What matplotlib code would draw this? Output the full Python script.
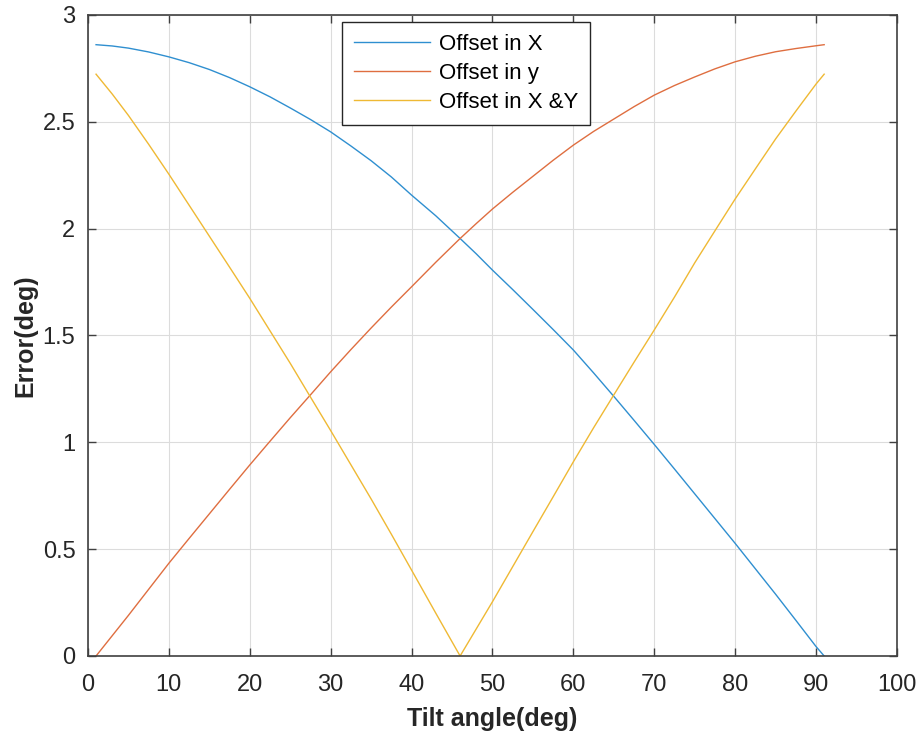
import matplotlib
matplotlib.use("Agg")
import matplotlib.pyplot as plt

# tilt angle samples (deg)
tilt = [1, 3, 5, 7.5, 10, 12.5, 15, 17.5, 20, 22.5, 25, 27.5, 30, 32.5, 35, 37.5,
        40, 43, 46, 48, 50, 52.5, 55, 57.5, 60, 62.5, 65, 67.5, 70, 72.5, 75, 77.5,
        80, 82.5, 85, 87.5, 90, 91]

# error values (deg)
offset_x = [2.861, 2.855, 2.845, 2.827, 2.804, 2.777, 2.745, 2.707, 2.664, 2.617,
            2.565, 2.511, 2.453, 2.387, 2.318, 2.242, 2.157, 2.06, 1.954, 1.882,
            1.806, 1.715, 1.622, 1.528, 1.432, 1.325, 1.215, 1.103, 0.99, 0.875,
            0.759, 0.643, 0.527, 0.408, 0.289, 0.167, 0.044, 0.0]
offset_y = [0.0, 0.095, 0.19, 0.312, 0.434, 0.55, 0.665, 0.78, 0.894, 1.005,
            1.115, 1.222, 1.33, 1.434, 1.535, 1.633, 1.728, 1.843, 1.954, 2.024,
            2.092, 2.17, 2.245, 2.32, 2.391, 2.455, 2.513, 2.571, 2.625, 2.67,
            2.71, 2.748, 2.781, 2.807, 2.828, 2.843, 2.856, 2.861]
offset_xy = [2.723, 2.63, 2.53, 2.395, 2.255, 2.11, 1.965, 1.82, 1.674, 1.522,
             1.37, 1.212, 1.055, 0.895, 0.735, 0.57, 0.402, 0.2, 0.0, 0.127,
             0.254, 0.418, 0.582, 0.745, 0.909, 1.068, 1.222, 1.375, 1.526, 1.68,
             1.84, 1.99, 2.139, 2.28, 2.42, 2.55, 2.677, 2.723]

labels = ["Offset in X", "Offset in y", "Offset in X &Y"]
colors = ["#2f8fd0", "#df6e40", "#efb934"]

plt.rcParams['font.family'] = ['Liberation Sans', 'DejaVu Sans']

fig = plt.figure(figsize=(9.23, 7.35), dpi=100)
ax = fig.add_axes([0.0953, 0.1075, 0.8765, 0.8721])

for ys, lab, c in zip([offset_x, offset_y, offset_xy], labels, colors):
    ax.plot(tilt, ys, color=c, lw=1.0, label=lab)

ax.set_xlim(0, 100)
ax.set_ylim(0, 3)
ax.set_xticks(range(0, 101, 10))
ax.set_yticks([0, 0.5, 1, 1.5, 2, 2.5, 3])
ax.set_yticklabels(["0", "0.5", "1", "1.5", "2", "2.5", "3"])
ax.grid(True, color="#dcdcdc", lw=0.8)
ax.set_axisbelow(True)
ax.tick_params(direction="in", top=True, right=True, length=6, width=1,
               color="#404040", labelsize=17, labelcolor="#262626")
ax.tick_params(axis="x", pad=13)
ax.tick_params(axis="y", pad=9)
for s in ax.spines.values():
    s.set_color("#404040")
    s.set_linewidth(1.2)

ax.set_xlabel("Tilt angle(deg)", fontsize=18, fontweight="bold", color="#262626", labelpad=8)
ax.set_ylabel("Error(deg)", fontsize=18, fontweight="bold", color="#262626", labelpad=4)

leg = ax.legend(loc="upper left", bbox_to_anchor=(0.314, 0.9895), fontsize=16,
                handlelength=3.4, handletextpad=0.4, fancybox=False, framealpha=1,
                edgecolor="#262626", borderpad=0.55, labelspacing=0.36, borderaxespad=0)
leg.get_frame().set_linewidth(1.0)

fig.savefig("out.png", dpi=100)
